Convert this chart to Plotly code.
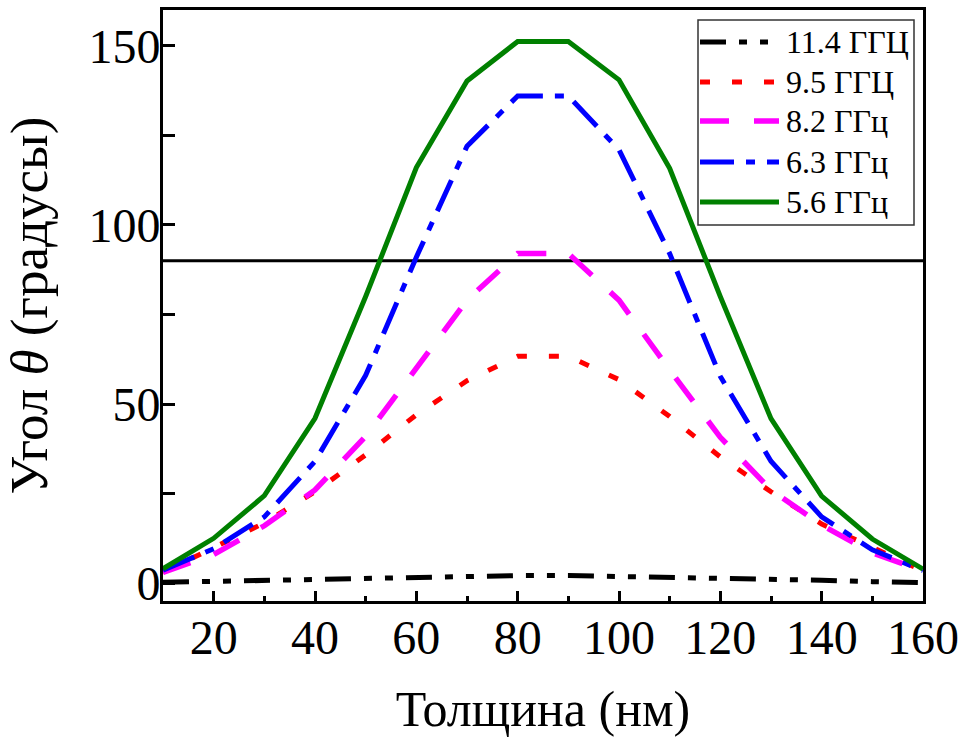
import plotly.graph_objects as go

thickness = [10, 20, 30, 40, 50, 60, 70, 80, 90, 100, 110, 120, 130, 140, 150, 160]

angle_11_4 = [0.2, 0.5, 0.8, 1.2, 1.5, 1.7, 1.9, 2.1, 2.1, 1.9, 1.7, 1.5, 1.1, 0.8, 0.4, 0.1]
angle_9_5 = [3.0, 9.8, 16.8, 25.5, 35.8, 47.0, 56.5, 63.3, 63.3, 56.8, 46.5, 35.2, 25.5, 16.5, 9.8, 3.4]
angle_8_2 = [3.0, 8.0, 16.0, 26.0, 41.0, 60.0, 79.0, 92.0, 92.0, 79.0, 59.5, 40.7, 26.0, 16.2, 8.4, 3.4]
angle_6_3 = [3.6, 9.6, 18.5, 34.0, 58.0, 91.0, 122.0, 136.0, 136.0, 121.0, 92.0, 57.7, 34.0, 18.5, 9.3, 3.5]
angle_5_6 = [4.0, 12.5, 24.4, 46.0, 80.0, 116.0, 140.2, 151.2, 151.2, 140.5, 115.8, 80.0, 45.9, 24.3, 12.3, 3.9]

labels = ["11.4 ГГЦ", "9.5 ГГЦ", "8.2 ГГц", "6.3 ГГц", "5.6 ГГц"]
reference_angle = 90

x_ticks = [20, 40, 60, 80, 100, 120, 140, 160]
y_ticks = [0, 25, 50, 75, 100, 125, 150]
y_ticktext = ["0", "", "50", "", "100", "", "150"]

FONT = "Liberation Serif, Times New Roman, serif"

series = [
    (angle_11_4, labels[0], "#000000", "26px,13px,8px,13px,8px,13px", 5),
    (angle_9_5, labels[1], "#FF0000", "10px,22px", 5),
    (angle_8_2, labels[2], "#FF00FF", "29px,25px", 5.5),
    (angle_6_3, labels[3], "#0000FF", "34px,12px,9px,12px", 5),
    (angle_5_6, labels[4], "#008000", "solid", 5),
]

# plot-area geometry (px) used to place the custom legend box
L, R, T, B = 163, 923, 10, 601
W, H = R - L, B - T


def px_x(p):
    return (p - L) / W


def px_y(p):
    return (B - p) / H


fig = go.Figure()
for ys, name, color, dash, w in series:
    fig.add_trace(go.Scatter(
        x=thickness, y=ys, mode="lines", name=name,
        line=dict(color=color, width=w, dash=dash),
        showlegend=False,
    ))

fig.add_hline(y=reference_angle, line=dict(color="black", width=3), layer="below")

# legend drawn as a box with line samples and texts
fig.add_shape(type="rect", xref="paper", yref="paper",
              x0=px_x(698), x1=px_x(914), y0=px_y(225), y1=px_y(20),
              line=dict(color="#333333", width=1.5), fillcolor="white", layer="above")
row_y = [42, 82, 121, 162, 202]
for (ys, name, color, dash, w), ry in zip(series, row_y):
    fig.add_shape(type="line", xref="paper", yref="paper",
                  x0=px_x(700), x1=px_x(779), y0=px_y(ry), y1=px_y(ry),
                  line=dict(color=color, width=w, dash=dash), layer="above")
    fig.add_annotation(xref="paper", yref="paper", x=px_x(784), y=px_y(ry),
                       xanchor="left", yanchor="middle", text=name, showarrow=False,
                       font=dict(family=FONT, size=32, color="black"))

fig.update_layout(
    template="none",
    width=963, height=742,
    margin=dict(l=L, r=963 - R, t=T, b=742 - B),
    plot_bgcolor="white", paper_bgcolor="white",
    font=dict(family=FONT, color="black", size=48),
    showlegend=False,
)

fig.update_xaxes(
    range=[10, 160], tickvals=x_ticks, automargin=False,
    ticks="inside", ticklen=10, tickwidth=2.5, tickcolor="black",
    minor=dict(dtick=10, tick0=0, ticks="inside", ticklen=5, tickwidth=2.5, tickcolor="black"),
    showline=True, linewidth=3, linecolor="black", mirror=True,
    showgrid=False, zeroline=False,
    tickfont=dict(family=FONT, size=48), ticklabelstandoff=-8,
    title=dict(text="Толщина (нм)", font=dict(family=FONT, size=50), standoff=29),
)
fig.update_yaxes(
    range=[-5, 160], tickvals=y_ticks, ticktext=y_ticktext, automargin=False,
    ticks="inside", ticklen=12, tickwidth=2.5, tickcolor="black",
    showline=True, linewidth=3, linecolor="black", mirror=True,
    showgrid=False, zeroline=False,
    tickfont=dict(family=FONT, size=48), ticklabelstandoff=-10,
    title=dict(text="Угол <i>θ</i> (градусы)", font=dict(family=FONT, size=53), standoff=24),
)

fig.write_html("out.html")
